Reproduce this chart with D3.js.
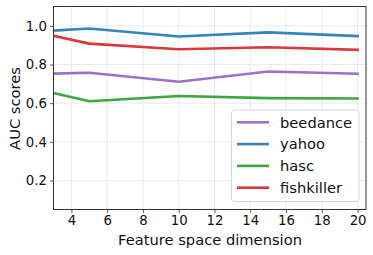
<!DOCTYPE html>
<html><head><meta charset="utf-8">
<script src="https://cdn.jsdelivr.net/npm/d3@7"></script>
<style>
html,body{margin:0;padding:0;background:#fff;}
svg{display:block;font-family:"DejaVu Sans",sans-serif;}
</style></head>
<body><svg id="c" width="373" height="255"></svg>
<script>
const dims = [3, 5, 10, 15, 20];
const seriesNames = ["beedance", "yahoo", "hasc", "fishkiller"];
const beedance = [0.753, 0.757, 0.711, 0.764, 0.752];
const yahoo = [0.975, 0.986, 0.945, 0.966, 0.947];
const hasc = [0.652, 0.610, 0.637, 0.626, 0.624];
const fishkiller = [0.948, 0.908, 0.879, 0.889, 0.876];
const colors = ["#9c72c9", "#3583c0", "#3ea83e", "#dc3838"];
const xTicks = [4, 6, 8, 10, 12, 14, 16, 18, 20];
const yTicks = [0.2, 0.4, 0.6, 0.8, 1.0];

const values = [beedance, yahoo, hasc, fishkiller];
const svg = d3.select("#c");
const L = 53.5, R = 366, T = 6.5, B = 209.5;
const x = d3.scaleLinear().domain([3, 20.47]).range([L, R]);
const y = d3.scaleLinear().domain([0.05, 1.1]).range([B, T]);

// grid
const g = svg.append("g");
g.selectAll(".gx").data(xTicks).join("line")
  .attr("x1", d => x(d)).attr("x2", d => x(d)).attr("y1", T).attr("y2", B)
  .attr("stroke", "#e8e8e8").attr("stroke-width", 0.9);
g.selectAll(".gy").data(yTicks).join("line")
  .attr("y1", d => y(d)).attr("y2", d => y(d)).attr("x1", L).attr("x2", R)
  .attr("stroke", "#e8e8e8").attr("stroke-width", 0.9);

// lines
const line = d3.line().x((d, i) => x(dims[i])).y(d => y(d));
const clip = svg.append("clipPath").attr("id", "clp").append("rect")
  .attr("x", L).attr("y", T).attr("width", R - L).attr("height", B - T);
values.forEach((vals, k) => {
  svg.append("path").datum(vals).attr("d", line)
    .attr("fill", "none").attr("stroke", colors[k]).attr("stroke-width", 2.6)
    .attr("stroke-linecap", "square").attr("stroke-linejoin", "round")
    .attr("clip-path", "url(#clp)");
});

// axes
const xa = svg.append("g").attr("transform", `translate(0,${B})`)
  .call(d3.axisBottom(x).tickValues(xTicks).tickSize(3.5).tickPadding(3).tickFormat(d3.format("d")));
const ya = svg.append("g").attr("transform", `translate(${L},0)`)
  .call(d3.axisLeft(y).tickValues(yTicks).tickSize(3.5).tickPadding(3).tickFormat(d3.format(".1f")));
[xa, ya].forEach(a => {
  a.select(".domain").remove();
  a.selectAll("line").attr("stroke", "#333").attr("stroke-width", 0.8);
  a.selectAll("text").attr("font-size", 13.3).attr("fill", "#111").attr("font-family", "DejaVu Sans");
});

// spines
svg.append("rect").attr("x", L).attr("y", T).attr("width", R - L).attr("height", B - T)
  .attr("fill", "none").attr("stroke", "#333").attr("stroke-width", 1);

// labels
svg.append("text").attr("x", 210).attr("y", 245).attr("text-anchor", "middle")
  .attr("font-size", 14.7).attr("fill", "#111").text("Feature space dimension");
svg.append("text").attr("transform", `translate(19.5,108.5) rotate(-90)`)
  .attr("text-anchor", "middle").attr("font-size", 14.7).attr("fill", "#111").text("AUC scores");

// legend
const lg = svg.append("g");
lg.append("rect").attr("x", 231.5).attr("y", 110).attr("width", 127.5).attr("height", 91.5)
  .attr("rx", 3).attr("fill", "#fff").attr("fill-opacity", 0.85)
  .attr("stroke", "#d8d8d8").attr("stroke-width", 1);
seriesNames.forEach((n, k) => {
  const yy = 122.3 + k * 21.8;
  lg.append("line").attr("x1", 237).attr("x2", 269).attr("y1", yy).attr("y2", yy)
    .attr("stroke", colors[k]).attr("stroke-width", 2.6);
  lg.append("text").attr("x", 280).attr("y", yy + 5.2).attr("font-size", 14.7)
    .attr("fill", "#111").text(n);
});
</script></body></html>
